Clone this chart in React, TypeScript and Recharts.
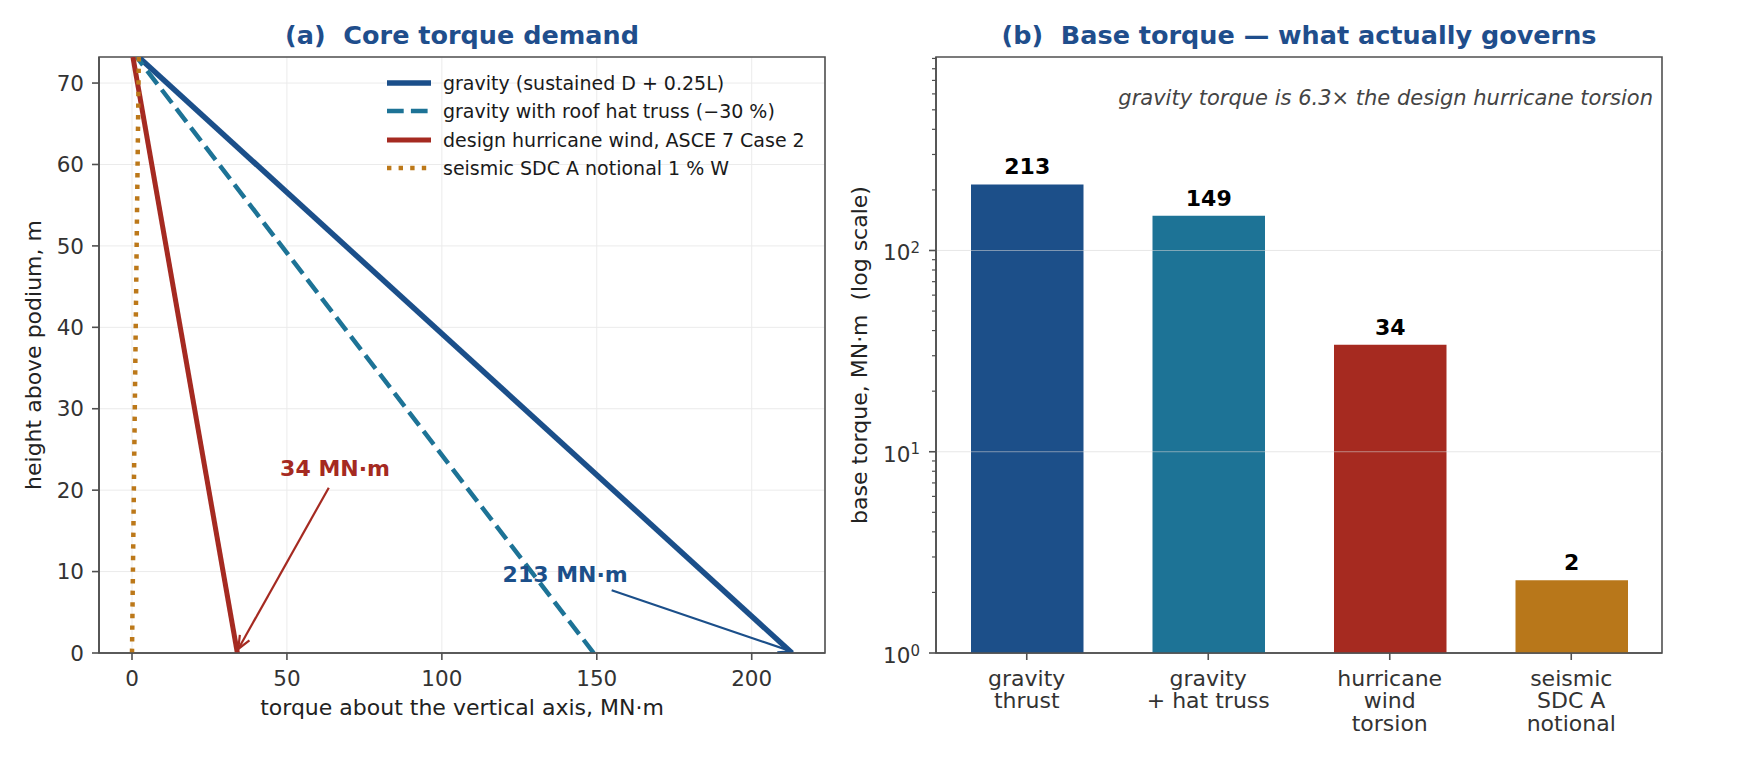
import React from 'react'
import {
  LineChart, Line, BarChart, Bar, XAxis, YAxis, CartesianGrid, Legend,
  ReferenceArea, ReferenceLine, ReferenceDot, LabelList, Cell
} from 'recharts'

const FONT = '"DejaVu Sans", "Liberation Sans", sans-serif'

// ---- panel (a): torque up the core, MN·m vs height above podium, m
const heightTop = 73.2
const gravityProfile = [{ t: 213, h: 0 }, { t: 2.1, h: 73.2 }]
const hatTrussProfile = [{ t: 149, h: 0 }, { t: 1.5, h: 73.2 }]
const hurricaneProfile = [{ t: 34, h: 0 }, { t: 0.3, h: 73.2 }]
const seismicProfile = [{ t: 0, h: 0 }, { t: 2.2, h: 73.2 }]
const torqueTicks = [0, 50, 100, 150, 200]
const heightTicks = [0, 10, 20, 30, 40, 50, 60, 70]

const seriesNames = [
  'gravity (sustained D + 0.25L)',
  'gravity with roof hat truss (\u221230 %)',
  'design hurricane wind, ASCE 7 Case 2',
  'seismic SDC A notional 1 % W',
]
const seriesColors = ['#1b4f8a', '#1d7396', '#a52a21', '#bc7819']
const seriesWidths = [5.5, 4.5, 5, 4.5]
const seriesDash = [undefined, '16.7 7.2', undefined, '4.4 7.2']
const profiles = [gravityProfile, hatTrussProfile, hurricaneProfile, seismicProfile]

// call-outs: text anchor, arrow tail and arrow head in data units
const callouts = [
  { text: '34 MN\u00b7m', at: { x: 47.8, y: 21.8 }, from: { x: 63.5, y: 20.3 }, to: { x: 34.3, y: 0.5 }, color: '#a52a21' },
  { text: '213 MN\u00b7m', at: { x: 119.6, y: 8.7 }, from: { x: 154.8, y: 7.7 }, to: { x: 212.8, y: 0.2 }, color: '#1b4f8a' },
]

// ---- panel (b): base torque, log scale
const baseCategories = ['gravity\nthrust', 'gravity\n+ hat truss', 'hurricane\nwind\ntorsion', 'seismic\nSDC A\nnotional']
const baseTorque = [213, 149, 34, 2.3]
const barColors = ['#1c4f89', '#1d7396', '#a62a20', '#b8771a']
const logMajorTicks = [1, 10, 100]
const logMinorTicks = [2, 3, 4, 5, 6, 7, 8, 9, 20, 30, 40, 50, 60, 70, 80, 90, 200, 300, 400, 500, 600, 700, 800, 900]
const logTop = 915

const SPINE = '#505050'
const TICK_TEXT = '#333333'
const TITLE = '#1f4e8c'

const arrowShape = (color: string) => (p: any) => {
  const { x1, y1, x2, y2 } = p
  const ang = Math.atan2(y2 - y1, x2 - x1)
  const L = 13
  const W = 5.5
  const bx = x2 - L * Math.cos(ang)
  const by = y2 - L * Math.sin(ang)
  const px = -Math.sin(ang) * W
  const py = Math.cos(ang) * W
  return (
    <g>
      <line x1={x1} y1={y1} x2={x2} y2={y2} stroke={color} strokeWidth={2.2} />
      <polyline points={`${bx + px},${by + py} ${x2},${y2} ${bx - px},${by - py}`} fill="none" stroke={color} strokeWidth={2.2} />
    </g>
  )
}

function ProfileLegend() {
  return (
    <div style={{ fontFamily: FONT, fontSize: 19, color: '#1a1a1a' }}>
      {seriesNames.map((n, i) => (
        <div key={n} style={{ display: 'flex', alignItems: 'center', height: 28.5 }}>
          <svg width={44} height={12} style={{ display: 'block' }}>
            <line x1={0} y1={6} x2={44} y2={6} stroke={seriesColors[i]} strokeWidth={seriesWidths[i]} strokeDasharray={seriesDash[i]} />
          </svg>
          <span style={{ marginLeft: 12, whiteSpace: 'nowrap' }}>{n}</span>
        </div>
      ))}
    </div>
  )
}

function TorqueProfile() {
  const axisLine = { stroke: SPINE, strokeWidth: 1.6 }
  const tickStyle = { fill: TICK_TEXT, fontSize: 21.5, fontFamily: FONT }
  return (
    <LineChart width={835} height={768} margin={{ top: 57, right: 10, bottom: 0, left: 0 }}>
      <CartesianGrid stroke="#ebebeb" strokeWidth={1} />
      <XAxis
        type="number" dataKey="t" domain={[-10.65, 223.65]} allowDataOverflow ticks={torqueTicks}
        height={115} tickSize={7} tickMargin={11} axisLine={axisLine} tickLine={axisLine} tick={tickStyle}
      />
      <YAxis
        type="number" domain={[0, heightTop]} allowDataOverflow ticks={heightTicks}
        width={99} tickSize={7} tickMargin={8} axisLine={axisLine} tickLine={axisLine} tick={tickStyle}
      />
      {profiles.map((d, i) => (
        <Line
          key={seriesNames[i]} data={d} dataKey="h" name={seriesNames[i]} stroke={seriesColors[i]}
          strokeWidth={seriesWidths[i]} strokeDasharray={seriesDash[i]} dot={false} isAnimationActive={false}
        />
      ))}
      {callouts.map((c) => (
        <ReferenceLine key={c.text + 'a'} segment={[c.from, c.to]} shape={arrowShape(c.color)} />
      ))}
      {callouts.map((c) => (
        <ReferenceDot
          key={c.text} x={c.at.x} y={c.at.y} r={1}
          shape={(p: any) => (
            <text x={p.cx} y={p.cy} fill={c.color} fontSize={22} fontWeight="bold" fontFamily={FONT}>{c.text}</text>
          )}
        />
      ))}
      <ReferenceArea
        y1={0} y2={heightTop}
        fill="none" stroke={SPINE} strokeWidth={1.6} fillOpacity={0}
        label={(p: any) => {
          const vb = p.viewBox
          return (
            <g fontFamily={FONT}>
              <text x={vb.x + vb.width / 2} y={44} textAnchor="middle" fill={TITLE} fontSize={25.5} fontWeight="bold" style={{ whiteSpace: 'pre' }}>
                (a)  Core torque demand
              </text>
              <text x={vb.x + vb.width / 2} y={vb.y + vb.height + 62} textAnchor="middle" fill="#222" fontSize={22}>
                torque about the vertical axis, MN·m
              </text>
              <text x={41} y={vb.y + vb.height / 2} transform={`rotate(-90 41 ${vb.y + vb.height / 2})`} textAnchor="middle" fill="#222" fontSize={22}>
                height above podium, m
              </text>
            </g>
          )
        }}
      />
      <Legend
        layout="vertical" align="center" verticalAlign="middle"
        wrapperStyle={{ left: 387, top: 68.5, width: 440, height: 'auto' }}
        content={() => <ProfileLegend />}
      />
    </LineChart>
  )
}

function LogTick(props: any) {
  const { x, y, payload } = props
  const v = payload.value
  const major = logMajorTicks.includes(v)
  const len = major ? 7 : 4
  return (
    <g>
      <line x1={x - len} x2={x} y1={y} y2={y} stroke={SPINE} strokeWidth={major ? 1.6 : 1.2} />
      {major && (
        <text x={x - 16} y={y + 10} textAnchor="end" fill={TICK_TEXT} fontSize={21.5} fontFamily={FONT}>
          10<tspan dy={-7.5} fontSize={15}>{Math.round(Math.log10(v))}</tspan>
        </text>
      )}
    </g>
  )
}

function CatTick(props: any) {
  const { x, y, payload } = props
  const lines = String(payload.value).split('\n')
  return (
    <text x={x} y={y} textAnchor="middle" fill={TICK_TEXT} fontSize={22} fontFamily={FONT}>
      {lines.map((l, i) => (
        <tspan key={i} x={x} y={y + 25.5 + i * 22.7}>{l}</tspan>
      ))}
    </text>
  )
}

function BaseTorque() {
  const rows = baseCategories.map((c, i) => ({ cat: c, v: baseTorque[i] }))
  const axisLine = { stroke: SPINE, strokeWidth: 1.6 }
  return (
    <BarChart width={925} height={768} data={rows} margin={{ top: 57, right: 98, bottom: 0, left: 0 }}>
      <XAxis
        dataKey="cat" height={115} interval={0} tickSize={7} tickMargin={0}
        axisLine={axisLine} tickLine={axisLine} tick={<CatTick />}
      />
      <YAxis
        scale="log" type="number" domain={[1, logTop]} allowDataOverflow
        ticks={[...logMajorTicks, ...logMinorTicks]} interval={0}
        width={101} tickSize={0} tickMargin={0} tickLine={false} axisLine={axisLine} tick={<LogTick />}
      />
      <Bar dataKey="v" barSize={112.5} isAnimationActive={false}>
        {rows.map((r, i) => (
          <Cell key={r.cat} fill={barColors[i]} />
        ))}
        <LabelList
          dataKey="v" position="top" offset={10}
          formatter={(v: any) => Math.round(Number(v))}
          style={{ fill: '#000', fontSize: 22, fontWeight: 'bold', fontFamily: FONT }}
        />
      </Bar>
      {logMajorTicks.slice(1).map((t) => (
        <ReferenceLine key={t} y={t} stroke="#d6d6d6" strokeOpacity={0.55} strokeWidth={1} />
      ))}
      <ReferenceArea
        y1={1} y2={logTop}
        fill="none" stroke={SPINE} strokeWidth={1.6} fillOpacity={0}
        label={(p: any) => {
          const vb = p.viewBox
          return (
            <g fontFamily={FONT}>
              <text x={vb.x + vb.width / 2} y={44} textAnchor="middle" fill={TITLE} fontSize={25.5} fontWeight="bold" style={{ whiteSpace: 'pre' }}>
                (b)  Base torque — what actually governs
              </text>
              <text x={vb.x + vb.width - 9} y={vb.y + 48} textAnchor="end" fill="#444" fontSize={21} fontStyle="italic">
                gravity torque is 6.3× the design hurricane torsion
              </text>
              <text x={32} y={vb.y + vb.height / 2} transform={`rotate(-90 32 ${vb.y + vb.height / 2})`} textAnchor="middle" fill="#222" fontSize={22} style={{ whiteSpace: 'pre' }}>
                base torque, MN·m  (log scale)
              </text>
            </g>
          )
        }}
      />
    </BarChart>
  )
}

export default function App() {
  return (
    <div style={{ position: 'absolute', left: 0, top: 0, width: 1760, height: 768, background: '#fff' }}>
      <div style={{ position: 'absolute', left: 0, top: 0 }}>
        <TorqueProfile />
      </div>
      <div style={{ position: 'absolute', left: 835, top: 0 }}>
        <BaseTorque />
      </div>
    </div>
  )
}
